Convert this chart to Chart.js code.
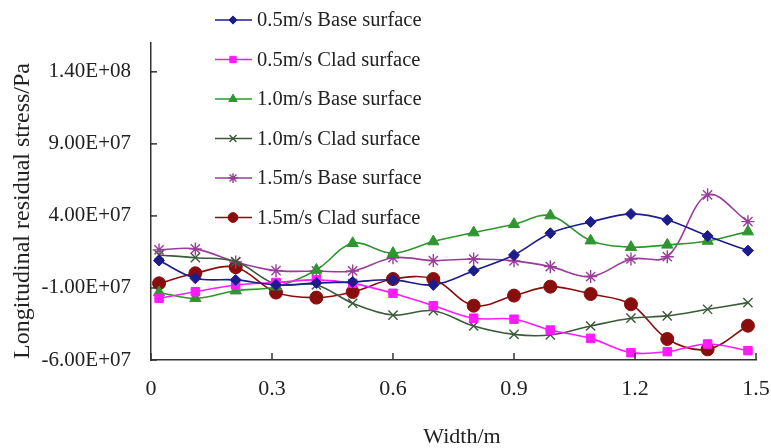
<!DOCTYPE html>
<html>
<head>
<meta charset="utf-8">
<script src="https://cdn.jsdelivr.net/npm/chart.js@4/dist/chart.umd.min.js"></script>
<style>
  body { margin: 0; background: #fff; }
</style>
</head>
<body>
<canvas id="chartStress" width="771" height="448"></canvas>
<script>
// width positions along the plate (m)
const widthM = [0.02, 0.11, 0.21, 0.31, 0.41, 0.50, 0.60, 0.70, 0.80, 0.90, 0.99, 1.09, 1.19, 1.28, 1.38, 1.48];

// longitudinal residual stress (Pa)
const base05 = [9.0e6, -3.3e6, -4.4e6, -7.9e6, -6.5e6, -5.8e6, -4.4e6, -7.9e6, 2.0e6, 1.29e7, 2.80e7, 3.58e7, 4.14e7, 3.72e7, 2.61e7, 1.59e7];
const clad05 = [-1.72e7, -1.26e7, -7.9e6, -6.2e6, -4.4e6, -6.8e6, -1.37e7, -2.23e7, -3.10e7, -3.17e7, -3.92e7, -4.50e7, -5.49e7, -5.42e7, -4.89e7, -5.35e7];
const base10 = [-1.31e7, -1.72e7, -1.19e7, -9.1e6, 2.5e6, 2.10e7, 1.41e7, 2.22e7, 2.84e7, 3.42e7, 4.02e7, 2.28e7, 1.83e7, 1.99e7, 2.26e7, 2.91e7];
const clad10 = [1.29e7, 1.10e7, 8.3e6, -7.4e6, -7.9e6, -2.06e7, -2.88e7, -2.58e7, -3.64e7, -4.22e7, -4.26e7, -3.64e7, -3.10e7, -2.94e7, -2.48e7, -2.02e7];
const base15 = [1.64e7, 1.71e7, 8.0e6, 2.0e6, 1.8e6, 1.8e6, 1.10e7, 9.0e6, 1.01e7, 8.8e6, 4.8e6, -2.1e6, 1.01e7, 1.17e7, 5.46e7, 3.60e7];
const clad15 = [-6.8e6, 2.0e5, 4.4e6, -1.32e7, -1.67e7, -1.28e7, -3.8e6, -3.8e6, -2.23e7, -1.53e7, -9.1e6, -1.42e7, -2.13e7, -4.54e7, -5.26e7, -3.62e7];

const seriesNames = [
    "0.5m/s Base surface", "0.5m/s Clad surface",
    "1.0m/s Base surface", "1.0m/s Clad surface",
    "1.5m/s Base surface", "1.5m/s Clad surface"
];

const xTicks = [0, 0.3, 0.6, 0.9, 1.2, 1.5];
const yTicks = [-6.0e7, -1.0e7, 4.0e7, 9.0e7, 1.4e8];

const FONT = "'Liberation Serif', 'Times New Roman', serif";

// ==============================
// helpers
// ==============================
function toPoints(ys) {
    return widthM.map((x, i) => ({ x: x, y: ys[i] }));
}

function fmtSci(v) {
    if (v === 0) return "0.00E+00";
    const exp = Math.floor(Math.log10(Math.abs(v)));
    const mant = v / Math.pow(10, exp);
    const sign = exp < 0 ? "-" : "+";
    return mant.toFixed(2) + "E" + sign + String(Math.abs(exp)).padStart(2, "0");
}

function makeSeries(label, ys, color, style, radius, bw) {
    return {
        label: label,
        data: toPoints(ys),
        borderColor: color,
        backgroundColor: color,
        pointStyle: style,
        pointRadius: radius,
        pointBorderWidth: bw,
        pointBackgroundColor: color,
        pointBorderColor: color,
        borderWidth: 1.6,
        showLine: true,
        tension: 0.35,
        fill: false
    };
}

const datasets = [
    makeSeries(seriesNames[0], base05, "#1c1c8c", "rectRot", 5.5, 1),
    makeSeries(seriesNames[1], clad05, "#ff1aff", "rect", 6, 1),
    makeSeries(seriesNames[2], base10, "#2e962e", "triangle", 6.5, 1),
    makeSeries(seriesNames[3], clad10, "#3a5a3a", "crossRot", 6.5, 1.4),
    makeSeries(seriesNames[4], base15, "#9a3c9a", "star", 6.5, 1.4),
    makeSeries(seriesNames[5], clad15, "#8a0d0d", "circle", 6.5, 1)
];

// ==============================
// inner tick marks, axis titles, legend
// ==============================
const decorPlugin = {
    id: "decor",
    afterDraw(chart) {
        const ctx = chart.ctx;
        const xs = chart.scales.x;
        const ys = chart.scales.y;
        const area = chart.chartArea;

        ctx.save();
        ctx.strokeStyle = "#333";
        ctx.lineWidth = 1.5;
        ys.ticks.forEach(t => {
            const py = ys.getPixelForValue(t.value);
            ctx.beginPath();
            ctx.moveTo(area.left, py);
            ctx.lineTo(area.left + 6, py);
            ctx.stroke();
        });
        xs.ticks.forEach(t => {
            const px = xs.getPixelForValue(t.value);
            ctx.beginPath();
            ctx.moveTo(px, area.bottom);
            ctx.lineTo(px, area.bottom - 7);
            ctx.stroke();
        });

        // axis titles
        ctx.fillStyle = "#222";
        ctx.textAlign = "center";
        ctx.textBaseline = "middle";
        ctx.font = "22px " + FONT;
        ctx.fillText("Width/m", 462, 437);
        ctx.font = "24px " + FONT;
        ctx.translate(23, 211);
        ctx.rotate(-Math.PI / 2);
        ctx.fillText("Longitudinal residual stress/Pa", 0, 0);
        ctx.restore();

        // legend
        ctx.save();
        ctx.font = "20.5px " + FONT;
        ctx.textAlign = "left";
        ctx.textBaseline = "middle";
        chart.data.datasets.forEach((ds, i) => {
            const rowY = 20 + i * 39.5;
            ctx.strokeStyle = ds.borderColor;
            ctx.fillStyle = ds.backgroundColor;
            ctx.lineWidth = 1.6;
            ctx.beginPath();
            ctx.moveTo(215, rowY);
            ctx.lineTo(252, rowY);
            ctx.stroke();
            ctx.lineWidth = ds.pointBorderWidth;
            Chart.helpers.drawPoint(ctx, {
                pointStyle: ds.pointStyle,
                radius: ds.pointRadius * 0.75,
                rotation: 0,
                borderWidth: ds.pointBorderWidth
            }, 233, rowY);
            ctx.fillStyle = "#222";
            ctx.fillText(ds.label, 257, rowY + 1);
        });
        ctx.restore();
    }
};

new Chart(document.getElementById("chartStress"), {
    type: "scatter",
    data: { datasets: datasets },
    options: {
        responsive: false,
        animation: false,
        layout: { padding: { top: 43, right: 0, left: 0, bottom: 0 } },
        plugins: {
            legend: { display: false },
            tooltip: { enabled: false }
        },
        scales: {
            x: {
                type: "linear",
                min: 0,
                max: 1.5,
                afterFit: s => {
                    s.height = 88;
                    s.paddingLeft = 0;
                    s.paddingRight = 15;
                },
                afterBuildTicks: s => { s.ticks = xTicks.map(v => ({ value: v })); },
                grid: { display: false, drawTicks: false },
                border: { display: true, color: "#333", width: 1.5 },
                ticks: {
                    padding: 16,
                    color: "#222",
                    font: { family: FONT, size: 22 },
                    maxRotation: 0,
                    callback: v => String(v)
                }
            },
            y: {
                type: "linear",
                min: -6.0e7,
                max: 1.6e8,
                afterFit: s => { s.width = 151; },
                afterBuildTicks: s => { s.ticks = yTicks.map(v => ({ value: v })); },
                grid: { display: false, drawTicks: false },
                border: { display: true, color: "#333", width: 1.5 },
                ticks: {
                    padding: 20,
                    color: "#222",
                    font: { family: FONT, size: 21 },
                    callback: v => fmtSci(v)
                }
            }
        }
    },
    plugins: [decorPlugin]
});
</script>
</body>
</html>
